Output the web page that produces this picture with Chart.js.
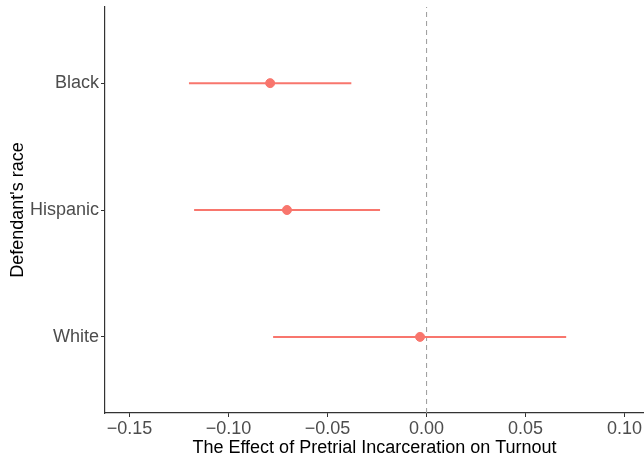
<!DOCTYPE html>
<html>
<head>
<meta charset="utf-8">
<script src="https://cdn.jsdelivr.net/npm/chart.js@4"></script>
<style>
  html, body { margin: 0; padding: 0; background: #fff; overflow: hidden; }
  canvas { display: block; }
</style>
</head>
<body>
<canvas id="effect" width="644" height="459"></canvas>
<script>
// defendant race groups, bottom to top position on the y axis
const races = ['White', 'Hispanic', 'Black'];
const estimates = [-0.0033, -0.0705, -0.079];
const lower = [-0.0775, -0.1174, -0.12];
const upper = [0.0705, -0.0235, -0.038];
const xTicks = [-0.15, -0.10, -0.05, 0.00, 0.05, 0.10];

const red = '#F8766D';
const axisColor = '#333333';

const datasets = [];
races.forEach((r, i) => {
    datasets.push({
        type: 'line',
        label: r + ' CI',
        data: [{x: lower[i], y: i + 1}, {x: upper[i], y: i + 1}],
        borderColor: red,
        borderWidth: 2,
        pointRadius: 0,
    });
});
datasets.push({
    type: 'scatter',
    label: 'Estimate',
    data: races.map((r, i) => ({x: estimates[i], y: i + 1})),
    backgroundColor: red,
    borderColor: red,
    pointRadius: 4.5,
    pointHoverRadius: 4.5,
});
// zero reference line
datasets.push({
    type: 'line',
    label: 'zero',
    data: [{x: 0, y: 0.4}, {x: 0, y: 3.6}],
    borderColor: '#999999',
    borderWidth: 1,
    borderDash: [5, 4],
    pointRadius: 0,
});

const noPad = (s) => { s.paddingLeft = 0; s.paddingRight = 0; s.paddingTop = 0; s.paddingBottom = 0; };

const chart = new Chart(document.getElementById('effect'), {
    type: 'scatter',
    data: {datasets: datasets},
    options: {
        responsive: false,
        animation: false,
        layout: {autoPadding: false, padding: {top: 7, right: 0, bottom: 0, left: 0}},
        plugins: {legend: {display: false}, tooltip: {enabled: false}},
        scales: {
            x: {
                type: 'linear',
                min: -0.1624,
                max: 0.1098,
                afterBuildTicks: (s) => { s.ticks = xTicks.map(v => ({value: v})); },
                afterFit: (s) => { s.height = 46; noPad(s); },
                ticks: {
                    color: '#4d4d4d',
                    font: {family: 'Liberation Sans', size: 18},
                    padding: 1,
                    maxRotation: 0,
                    callback: (v) => (v < 0 ? '\u2212' : '') + Math.abs(v).toFixed(2),
                },
                grid: {display: true, drawOnChartArea: false, drawTicks: true, tickLength: 4, color: axisColor},
                border: {display: true, color: axisColor, width: 1.2},
                title: {
                    display: true,
                    text: 'The Effect of Pretrial Incarceration on Turnout',
                    color: '#000',
                    font: {family: 'Liberation Sans', size: 18},
                    padding: {top: 0, bottom: 0},
                },
            },
            y: {
                type: 'linear',
                min: 0.4,
                max: 3.6,
                afterBuildTicks: (s) => { s.ticks = races.map((r, i) => ({value: i + 1})); },
                afterFit: (s) => { s.width = 105; noPad(s); },
                ticks: {
                    color: '#4d4d4d',
                    font: {family: 'Liberation Sans', size: 18},
                    padding: 2,
                    callback: (v) => races[v - 1],
                },
                grid: {display: true, drawOnChartArea: false, drawTicks: true, tickLength: 4, color: axisColor},
                border: {display: true, color: axisColor, width: 1.2},
                title: {
                    display: true,
                    text: "Defendant's race",
                    color: '#000',
                    font: {family: 'Liberation Sans', size: 18},
                    padding: {top: 7, bottom: 0},
                },
            },
        },
    },
});
</script>
</body>
</html>
